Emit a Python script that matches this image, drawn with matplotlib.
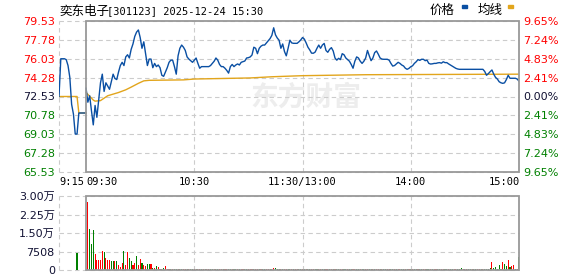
import numpy as np
import matplotlib.pyplot as plt
from matplotlib.patches import Rectangle

plt.rcParams['font.family'] = ['DejaVu Sans', 'Noto Sans CJK SC']

# 奕东电子[301123] 分时 2025-12-24
name = "奕东电子"
info = "[301123] 2025-12-24 15:30"
prev_close = 72.53
price_ticks = [79.53, 77.78, 76.03, 74.28, 72.53, 70.78, 69.03, 67.28, 65.53]
pct_labels = ["9.65%", "7.24%", "4.83%", "2.41%", "0.00%", "2.41%", "4.83%", "7.24%", "9.65%"]
vol_ticks = [0, 7508, 15016, 22524, 30032]
vol_labels = ["0", "7508", "1.50万", "2.25万", "3.00万"]
time_pos = [0, 15, 75, 135, 195, 255]   # 从9:15起的分钟
time_labels = ["9:15", "09:30", "10:30", "11:30/13:00", "14:00", "15:00"]

# 集合竞价 9:15-9:30
pre_t = [0, 1, 2, 3, 4, 5, 6, 7, 8, 9, 10, 11, 12, 13, 14, 15]
pre_price = [72.53, 76.03, 76.03, 76.03, 75.95, 75.4, 74.3, 71.8, 70.9, 69.05,
             69.05, 71.0, 71.0, 71.0, 71.0, 71.0]
pre_avg_t = [0, 10, 11, 15]
pre_avg = [72.53, 72.53, 71.0, 71.0]
pre_vol_t = [10]
pre_vol = [7035]

# 连续竞价 每分钟价格 (9:30 起, 241 个)
price = [
    73.3, 72.0, 72.6, 71.2, 69.9, 71.7, 70.6, 72.2, 73.8, 74.6,
    73.0, 73.8, 73.5, 73.2, 73.9, 74.6, 74.2, 74.1, 74.8, 75.4,
    75.7, 75.4, 76.2, 76.4, 76.1, 76.9, 77.4, 78.1, 78.5, 78.7,
    78.0, 77.0, 77.6, 76.5, 75.4, 76.0, 76.0, 75.2, 75.6, 75.3,
    75.45, 75.2, 74.5, 74.4, 74.8, 75.2, 75.7, 75.9, 75.9, 75.3,
    74.6, 76.3, 77.0, 77.3, 77.1, 76.8, 76.2, 76.0, 75.85, 75.7,
    75.9, 76.1, 75.6, 75.15, 75.3, 75.3, 75.3, 75.3, 75.3, 75.4,
    75.6, 75.8, 76.1, 75.9, 75.5, 75.3, 75.3, 75.15, 74.95, 74.7,
    75.3, 75.5, 75.3, 75.45, 75.55, 75.45, 75.7, 75.76, 75.82, 76.1,
    76.13, 76.2, 76.38, 77.1, 77.0, 76.5, 77.0, 77.2, 77.3, 77.3,
    77.5, 77.7, 77.9, 78.2, 78.9, 78.25, 77.95, 77.75, 77.0, 77.4,
    76.7, 76.3, 77.0, 77.75, 77.5, 77.46, 77.46, 77.46, 77.6, 77.77,
    78.0, 77.85, 77.5, 77.1, 76.85, 76.55, 76.54, 76.65, 77.0, 77.3,
    77.0, 77.3, 77.45, 76.8, 76.63, 76.9, 77.06, 76.75, 76.1, 75.9,
    76.07, 75.95, 76.5, 76.4, 76.1, 75.95, 75.8, 75.5, 75.15, 75.8,
    76.2, 76.1, 75.8, 75.6, 75.8, 76.1, 76.8, 76.3, 75.85, 76.1,
    76.6, 76.75, 76.45, 76.1, 76.0, 75.98, 75.98, 75.98, 75.9, 75.6,
    75.35, 75.4, 75.55, 75.7, 75.6, 75.45, 75.36, 75.15, 75.05, 75.14,
    75.29, 75.38, 75.6, 75.75, 75.95, 75.88, 75.98, 75.98, 75.85, 75.9,
    75.6, 75.54, 75.56, 75.6, 75.6, 75.65, 75.67, 75.62, 75.75, 75.67,
    75.67, 75.55, 75.45, 75.36, 75.24, 75.14, 75.08, 75.05, 75.05, 75.05,
    75.05, 75.05, 75.05, 75.05, 75.05, 75.05, 75.05, 75.05, 75.05, 75.05,
    75.05, 74.85, 74.5, 74.65, 74.83, 74.99, 74.6, 74.3, 74.15, 73.9,
    73.8, 73.75, 73.8, 74.1, 74.5, 74.22, 74.22, 74.22, 74.22, 74.15,
    73.95,
]

# 均价线 (分钟, 均价)
avg_t = [0, 2, 4, 5, 8, 12, 18, 22, 25, 29, 32, 35, 54, 60, 91, 103, 120, 155, 240]
avg_px = [72.9, 72.55, 72.2, 72.1, 72.15, 72.6, 72.9, 73.15, 73.4, 73.75, 73.98,
          74.03, 74.07, 74.15, 74.25, 74.36, 74.46, 74.55, 74.6]

# 每分钟成交量 (手), 9:30 起
volume = [
    0,
    27700, 16650, 10650, 16250, 6550, 4100, 4100, 4100, 7900, 7500,
    4900, 4100, 4100, 3700, 3700, 3500, 3700, 2100, 1350, 2950,
    7800, 2100, 7400, 4800, 3800, 2100, 3000, 5700, 2100, 4500,
    2950, 2100, 1700, 2500, 2500, 2500, 950, 950, 1700, 1350,
    540, 540, 950, 1700, 540,
    450, 380, 520, 410, 360, 470, 400, 330, 540, 420, 380, 460, 350, 400, 480,
    420, 360, 390, 450, 300, 410, 370, 440, 390, 350, 470, 420, 380, 330, 410,
    400, 360, 450, 380, 420, 350, 390, 440, 370, 400, 330, 460, 410, 380, 420,
    390, 450, 520, 430, 380, 410, 440, 390, 420, 460, 400, 430, 560, 1000, 620,
    480, 420, 520, 440, 400, 470, 420, 450, 390, 360, 410, 380, 430, 400, 450,
    410, 380, 420, 360, 390, 440, 370, 400, 350, 420, 380, 410, 360, 400, 430,
    390, 420, 450, 380, 360, 410, 400, 370, 430, 390, 360, 410, 450, 400, 380,
    420, 390, 360, 400, 430, 470, 410, 380, 360, 420, 400, 370, 390, 410, 350,
    380, 400, 360, 420, 390, 370, 410, 380, 360, 400, 420, 390, 370, 400, 380,
    360, 410, 390, 420, 380, 400, 360, 390, 410, 370, 400, 380, 420, 390, 360,
    400, 380, 410, 370, 390, 420, 380, 400, 360, 410, 390, 380, 900, 420, 400,
    380, 410, 390, 370, 400, 420, 380, 450, 400, 520, 480, 560, 600, 810, 3380,
    810, 1080, 600, 2030, 500, 3380, 2435, 1620, 4060, 1080, 1620, 2030, 540, 400, 5275,
]
# 涨(u)/跌(d)
vol_dir = ("u"
           "udddu" "uuuud" "uuudd" "uduuu" "duudd" "uuduu" "duudd" "ududu" "duduu"
           "ududdudduududdu" "duududuuddudduu" "duuddudduduuddu" "uuduududduuduud"
           "dduduudduduuddu" "dudduudduudduud" "ududduuddudduud" "dudduudduduudud"
           "duudduduuddudud" "uddudduudduduud" "duuddudduudddud" "uddudduududdddu"
           "dddddudduduudud")

RED, GREEN = "#ff0000", "#008000"
BLUE, GOLD = "#0a4fa3", "#e2a51c"
GRID = dict(color="#cccccc", lw=0.8, ls=(0, (4, 3)), zorder=1, clip_on=False)

W, H = 578, 276
fig = plt.figure(figsize=(W / 100, H / 100), dpi=100)


def add_ax(l, t, r, b):
    return fig.add_axes([l / W, 1 - b / H, (r - l) / W, (b - t) / H])


ax = add_ax(59, 21, 519, 172)
axv = add_ax(59, 196, 519, 270)

for a in (ax, axv):
    a.set_xlim(time_pos[0], time_pos[-1])
    for s in a.spines.values():
        s.set_visible(False)
    a.set_xticks([])
    for t in (time_pos[0], time_pos[2], time_pos[3], time_pos[4]):
        a.axvline(t, **GRID)
    a.add_patch(Rectangle((time_pos[1], 0), time_pos[-1] - time_pos[1], 1,
                          transform=a.get_xaxis_transform(), fill=False,
                          ec="#999999", lw=1.3, zorder=5, clip_on=False))

# 价格区
ax.set_ylim(price_ticks[-1], price_ticks[0])
for v in price_ticks:
    ax.axhline(v, **GRID)

x_main = time_pos[1] + np.arange(len(price))
ax.plot(pre_avg_t, pre_avg, color=GOLD, lw=1.0, zorder=3)
ax.plot(time_pos[1] + np.array(avg_t), avg_px, color=GOLD, lw=1.0, zorder=3)
ax.plot(pre_t, pre_price, color=BLUE, lw=1.0, zorder=4)
ax.plot(x_main, price, color=BLUE, lw=1.0, zorder=4)

# 水印
ax.text(137, 72.4, "东方财富", color="#ededed", fontsize=20, fontweight="bold",
        family="Noto Sans CJK SC", ha="center", va="center", zorder=0)


def tick_color(v):
    if v > prev_close + 1e-6:
        return RED
    if v < prev_close - 1e-6:
        return GREEN
    return "#111133"


ax.set_yticks(price_ticks)
ax.set_yticklabels([f"{v:.2f}" for v in price_ticks])
ax.tick_params(axis="y", length=0, pad=3, labelsize=8)
for lab, v in zip(ax.get_yticklabels(), price_ticks):
    lab.set_color(tick_color(v))

ax2 = ax.twinx()
ax2.set_ylim(ax.get_ylim())
for s in ax2.spines.values():
    s.set_visible(False)
ax2.set_yticks(price_ticks)
ax2.set_yticklabels(pct_labels)
ax2.tick_params(axis="y", length=0, pad=3, labelsize=8)
for lab, v in zip(ax2.get_yticklabels(), price_ticks):
    lab.set_color(tick_color(v))

for t, lab, ha in zip(time_pos, time_labels,
                      ["left", "left", "center", "center", "center", "right"]):
    ax.text(t if ha != "right" else t + 0.6, -0.068, lab, transform=ax.get_xaxis_transform(),
            ha=ha, va="center", fontsize=7.5, family="DejaVu Sans Mono")

# 成交量区
axv.set_ylim(vol_ticks[0], vol_ticks[-1])
for v in vol_ticks:
    axv.axhline(v, **GRID)
colors = [RED if d == "u" else GREEN for d in vol_dir]
axv.bar(x_main, volume, width=0.6, color=colors, lw=0, zorder=3)
axv.bar(pre_vol_t, pre_vol, width=0.6, color=GREEN, lw=0, zorder=3)
axv.set_yticks(vol_ticks)
axv.set_yticklabels(vol_labels)
axv.tick_params(axis="y", length=0, pad=3, labelsize=8, labelcolor="#111133")

# 标题和图例
fig.text(59 / W, 1 - 11 / H, name, fontsize=9, family="Noto Sans CJK SC", va="center")
fig.text(107 / W, 1 - 11 / H, info, fontsize=7.5, family="DejaVu Sans Mono", va="center")
fig.text(430 / W, 1 - 10 / H, "价格", fontsize=9, family="Noto Sans CJK SC", va="center")
fig.text(478 / W, 1 - 10 / H, "均线", fontsize=9, family="Noto Sans CJK SC", va="center")
fig.add_artist(Rectangle((462 / W, 1 - 8 / H), 5 / W, 3 / H, color=BLUE, transform=fig.transFigure))
fig.add_artist(Rectangle((508 / W, 1 - 8 / H), 5 / W, 3 / H, color=GOLD, transform=fig.transFigure))

fig.savefig("out.png", dpi=100, facecolor="white")
